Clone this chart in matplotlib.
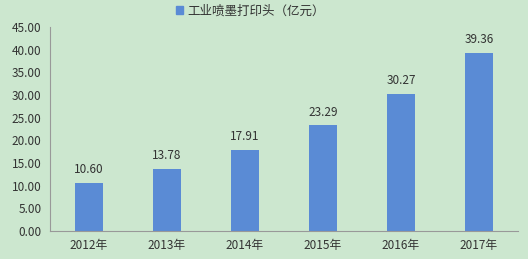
import matplotlib.pyplot as plt
from matplotlib.patches import Patch

plt.rcParams['font.family'] = ['Noto Sans CJK SC', 'DejaVu Sans']

# dados
anos = ['2012年', '2013年', '2014年', '2015年', '2016年', '2017年']
valores = [10.60, 13.78, 17.91, 23.29, 30.27, 39.36]
serie = '工业喷墨打印头（亿元）'

fundo = '#cce7cf'
cor_barra = '#5a8bd5'

fig = plt.figure(figsize=(5.28, 2.59), dpi=100, facecolor=fundo)
ax = fig.add_axes([50 / 528, 1 - 231 / 259, 468 / 528, 204 / 259], facecolor=fundo)

x = range(len(anos))
ax.bar(x, valores, width=0.36, color=cor_barra)
for xi, v in zip(x, valores):
    ax.text(xi, v + 1.5, f'{v:.2f}', ha='center', va='bottom', fontsize=8.5, color='#333333')

ax.set_xlim(-0.5, len(anos) - 0.5)
ax.set_ylim(0, 45)
ax.set_yticks(range(0, 46, 5))
ax.set_yticklabels([f'{t:.2f}' for t in range(0, 46, 5)], fontsize=8.5, color='#333333')
ax.set_xticks(list(x))
ax.set_xticklabels(anos, fontsize=8.5, color='#333333')
ax.tick_params(axis='both', length=0, pad=6)

for lado in ['top', 'right']:
    ax.spines[lado].set_visible(False)
ax.spines['left'].set_color('#999999')
ax.spines['bottom'].set_color('#999999')
ax.spines['left'].set_linewidth(0.8)
ax.spines['bottom'].set_linewidth(0.8)

fig.legend(handles=[Patch(color=cor_barra, label=serie)], loc='center',
           bbox_to_anchor=(250 / 528, 1 - 11 / 259), frameon=False, fontsize=9,
           handlelength=0.6, handleheight=0.6, handletextpad=0.3, labelcolor='#333333')

fig.savefig('out.png', dpi=100, facecolor=fundo)
